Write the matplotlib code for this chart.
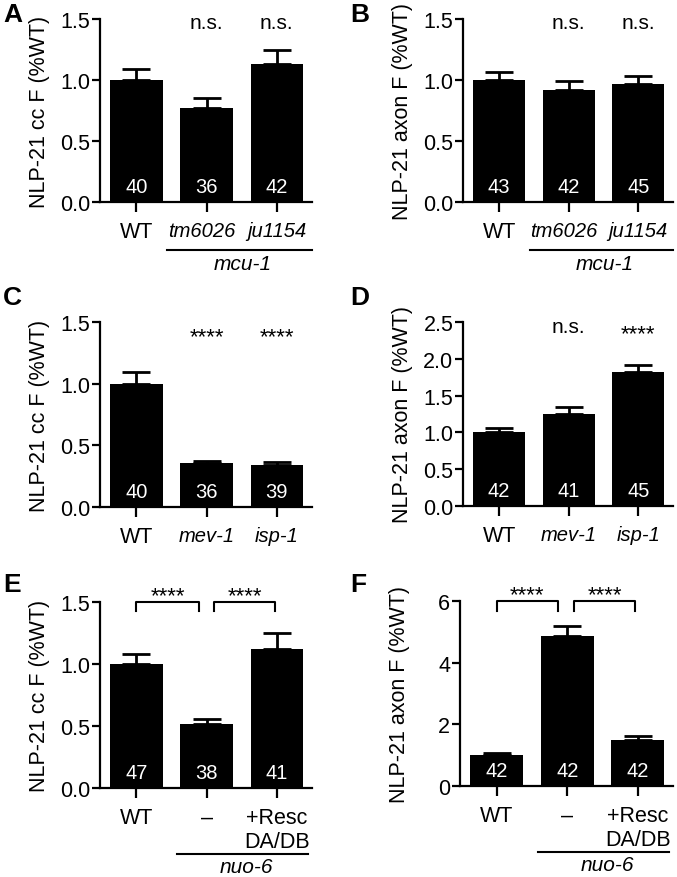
import matplotlib
matplotlib.use("Agg")
import matplotlib.pyplot as plt
import matplotlib.transforms as mtransforms

plt.rcParams['font.family'] = ['Liberation Sans', 'DejaVu Sans']

# data
groups_mcu = ["WT", "tm6026", "ju1154"]
groups_mito = ["WT", "mev-1", "isp-1"]
groups_nuo = ["WT", "\u2013", "+Resc\nDA/DB"]

a_mean = [1.00, 0.77, 1.13]
a_sem = [0.09, 0.085, 0.12]
a_n = [40, 36, 42]
a_sig = ["", "n.s.", "n.s."]

b_mean = [1.00, 0.92, 0.97]
b_sem = [0.065, 0.07, 0.06]
b_n = [43, 42, 45]
b_sig = ["", "n.s.", "n.s."]

c_mean = [1.00, 0.355, 0.34]
c_sem = [0.095, 0.022, 0.028]
c_n = [40, 36, 39]
c_sig = ["", "****", "****"]

d_mean = [1.00, 1.25, 1.82]
d_sem = [0.065, 0.10, 0.095]
d_n = [42, 41, 45]
d_sig = ["", "n.s.", "****"]

e_mean = [1.00, 0.515, 1.125]
e_sem = [0.08, 0.04, 0.125]
e_n = [47, 38, 41]

f_mean = [1.00, 4.87, 1.49]
f_sem = [0.08, 0.33, 0.13]
f_n = [42, 42, 42]

x = [0, 1, 2]

fig = plt.figure(figsize=(6.77, 8.78), dpi=100)


def panel(rect, mean, sem, n, labels, italic, ylabel, ylim, yticks, yfmt):
    ax = fig.add_axes(rect)
    ax.bar(x, mean, width=0.75, color="black", edgecolor="none", zorder=2)
    ax.errorbar(x, mean, yerr=[[0, 0, 0], sem], fmt="none", ecolor="black",
                elinewidth=2, capsize=10, capthick=2, zorder=1)
    for xi, ni in zip(x, n):
        ax.annotate(str(ni), xy=(xi, 0), xytext=(0, 7), textcoords="offset points",
                    ha="center", va="baseline", color="white", fontsize=14.5, zorder=3)
    ax.set_xlim(-0.52, 2.5)
    ax.set_ylim(*ylim)
    ax.set_yticks(yticks)
    ax.set_yticklabels([yfmt.format(v) for v in yticks])
    ax.set_xticks(x)
    ax.set_xticklabels(labels)
    for s in ["top", "right"]:
        ax.spines[s].set_visible(False)
    for s in ["left", "bottom"]:
        ax.spines[s].set_linewidth(1.6)
    ax.tick_params(axis="y", length=6, width=1.6, pad=1, labelsize=15.5)
    ax.tick_params(axis="x", length=7, width=1.6, pad=6.5, labelsize=15.5)
    for lab, it in zip(ax.get_xticklabels(), italic):
        if it:
            lab.set_style("italic")
            lab.set_fontsize(14.5)
    ax.set_ylabel(ylabel, fontsize=15.5)
    ax.yaxis.set_label_coords(-0.236, 0.5)
    return ax


def shift_label(ax, i, dx):
    lab = ax.get_xticklabels()[i]
    lab.set_transform(lab.get_transform() +
                      mtransforms.ScaledTranslation(dx / 100, 0, fig.dpi_scale_trans))


def sig_text(ax, sig, y):
    for xi, s in zip(x, sig):
        if s:
            fs = 16 if s.startswith("*") else 15
            ax.text(xi, y if s.startswith("n") else y - 0.04 * (ax.get_ylim()[1]),
                    s, ha="center", va="baseline", fontsize=fs, clip_on=False)


def group_line(ax, x0, x1, yline, ytext, name):
    tr = mtransforms.blended_transform_factory(ax.transData, ax.transAxes)
    ax.plot([x0, x1], [yline, yline], color="black", lw=1.5, transform=tr, clip_on=False)
    ax.text((x0 + x1) / 2 + 0.05, ytext, name, style="italic", fontsize=15,
            ha="center", va="top", transform=tr)


def bracket(ax, x0, x1, top, leg):
    ax.plot([x0, x0, x1, x1], [top - leg, top, top, top - leg], color="black",
            lw=1.5, clip_on=False)
    ax.text((x0 + x1) / 2, top + 0.005 * top, "****", ha="center", va="baseline",
            fontsize=16, clip_on=False)


ax_a = panel([0.1477, 0.7688, 0.3131, 0.2084], a_mean, a_sem, a_n, groups_mcu,
             [False, True, True], "NLP-21 cc F (%WT)", (0, 1.5), [0, 0.5, 1.0, 1.5], "{:.1f}")
sig_text(ax_a, a_sig, 1.43)
group_line(ax_a, 0.44, 2.5, -0.26, -0.285, "mcu-1")
shift_label(ax_a, 1, -5)

ax_b = panel([0.6839, 0.7688, 0.3102, 0.2084], b_mean, b_sem, b_n, groups_mcu,
             [False, True, True], "NLP-21 axon F (%WT)", (0, 1.5), [0, 0.5, 1.0, 1.5], "{:.1f}")
sig_text(ax_b, b_sig, 1.43)
group_line(ax_b, 0.44, 2.5, -0.26, -0.285, "mcu-1")
shift_label(ax_b, 1, -5)

ax_c = panel([0.1477, 0.4214, 0.3131, 0.2107], c_mean, c_sem, c_n, groups_mito,
             [False, True, True], "NLP-21 cc F (%WT)", (0, 1.5), [0, 0.5, 1.0, 1.5], "{:.1f}")
sig_text(ax_c, c_sig, 1.40)

ax_d = panel([0.6839, 0.4226, 0.3102, 0.2096], d_mean, d_sem, d_n, groups_mito,
             [False, True, True], "NLP-21 axon F (%WT)", (0, 2.5),
             [0, 0.5, 1.0, 1.5, 2.0, 2.5], "{:.1f}")
sig_text(ax_d, d_sig, 2.36)

ax_e = panel([0.1477, 0.1014, 0.3131, 0.2118], e_mean, e_sem, e_n, groups_nuo,
             [False, False, False], "NLP-21 cc F (%WT)", (0, 1.5), [0, 0.5, 1.0, 1.5], "{:.1f}")
bracket(ax_e, 0.0, 0.89, 1.5, 0.07)
bracket(ax_e, 1.11, 1.98, 1.5, 0.07)
group_line(ax_e, 0.58, 2.45, -0.355, -0.372, "nuo-6")

ax_f = panel([0.6795, 0.1036, 0.3146, 0.2107], f_mean, f_sem, f_n, groups_nuo,
             [False, False, False], "NLP-21 axon F (%WT)", (0, 6), [0, 2, 4, 6], "{:.0f}")
bracket(ax_f, 0.0, 0.87, 6, 0.32)
bracket(ax_f, 1.1, 1.96, 6, 0.32)
group_line(ax_f, 0.58, 2.45, -0.355, -0.372, "nuo-6")

for lab, px, py in [("A", 3, 22), ("B", 350, 22), ("C", 3, 305), ("D", 350, 305),
                    ("E", 3, 592), ("F", 350, 592)]:
    fig.text(px / 677, 1 - py / 878, lab, fontsize=19, fontweight="bold", va="baseline")

fig.savefig("out.png", dpi=100)
